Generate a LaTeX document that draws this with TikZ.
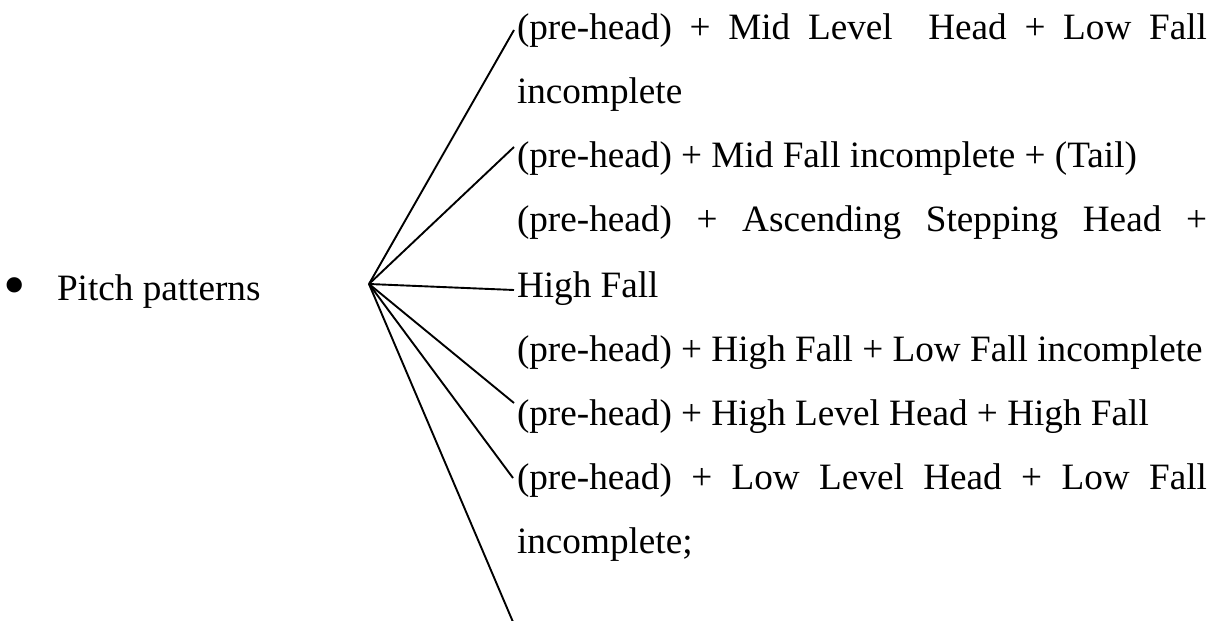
\documentclass[tikz,border=0pt]{standalone}
\usepackage{fontspec}
\setmainfont{Liberation Serif}
\begin{document}
\begin{tikzpicture}[x=1pt,y=-1pt,
  txt/.style={anchor=base west,inner sep=0pt,outer sep=0pt,font=\fontsize{37.2}{40}\selectfont},
  conn/.style={draw=black,line width=1.9pt}]
\useasboundingbox (0,0) rectangle (1227,621);
\def\W{690pt}
\node[txt,font=\fontsize{64}{64}\selectfont] (bul) at (4,306) {•};
\node[txt] (pp) at (57,300) {Pitch patterns};
\coordinate (hub) at (369,284);
\node[txt] (l1) at (517,39) {\makebox[\W][s]{(pre-head) + Mid Level\ \ Head + Low Fall}};
\node[txt] (l2) at (517,103) {incomplete};
\node[txt] (l3) at (517,167) {(pre-head) + Mid Fall incomplete + (Tail)};
\node[txt] (l4) at (517,231) {\makebox[\W][s]{(pre-head) + Ascending Stepping Head +}};
\node[txt] (l5) at (517,297) {High Fall};
\node[txt] (l6) at (517,361) {(pre-head) + High Fall + Low Fall incomplete};
\node[txt] (l7) at (517,425) {(pre-head) + High Level Head + High Fall};
\node[txt] (l8) at (517,489) {\makebox[\W][s]{(pre-head) + Low Level Head + Low Fall}};
\node[txt] (l9) at (517,553) {incomplete;};
\coordinate (e1) at (514,30);
\coordinate (e2) at (514,147);
\coordinate (e3) at (514,290);
\coordinate (e4) at (514,403);
\coordinate (e5) at (513,478);
\coordinate (e6) at (513,622);
\foreach \e in {e1,e2,e3,e4,e5,e6} \draw[conn] (hub) -- (\e);
\end{tikzpicture}
\end{document}
